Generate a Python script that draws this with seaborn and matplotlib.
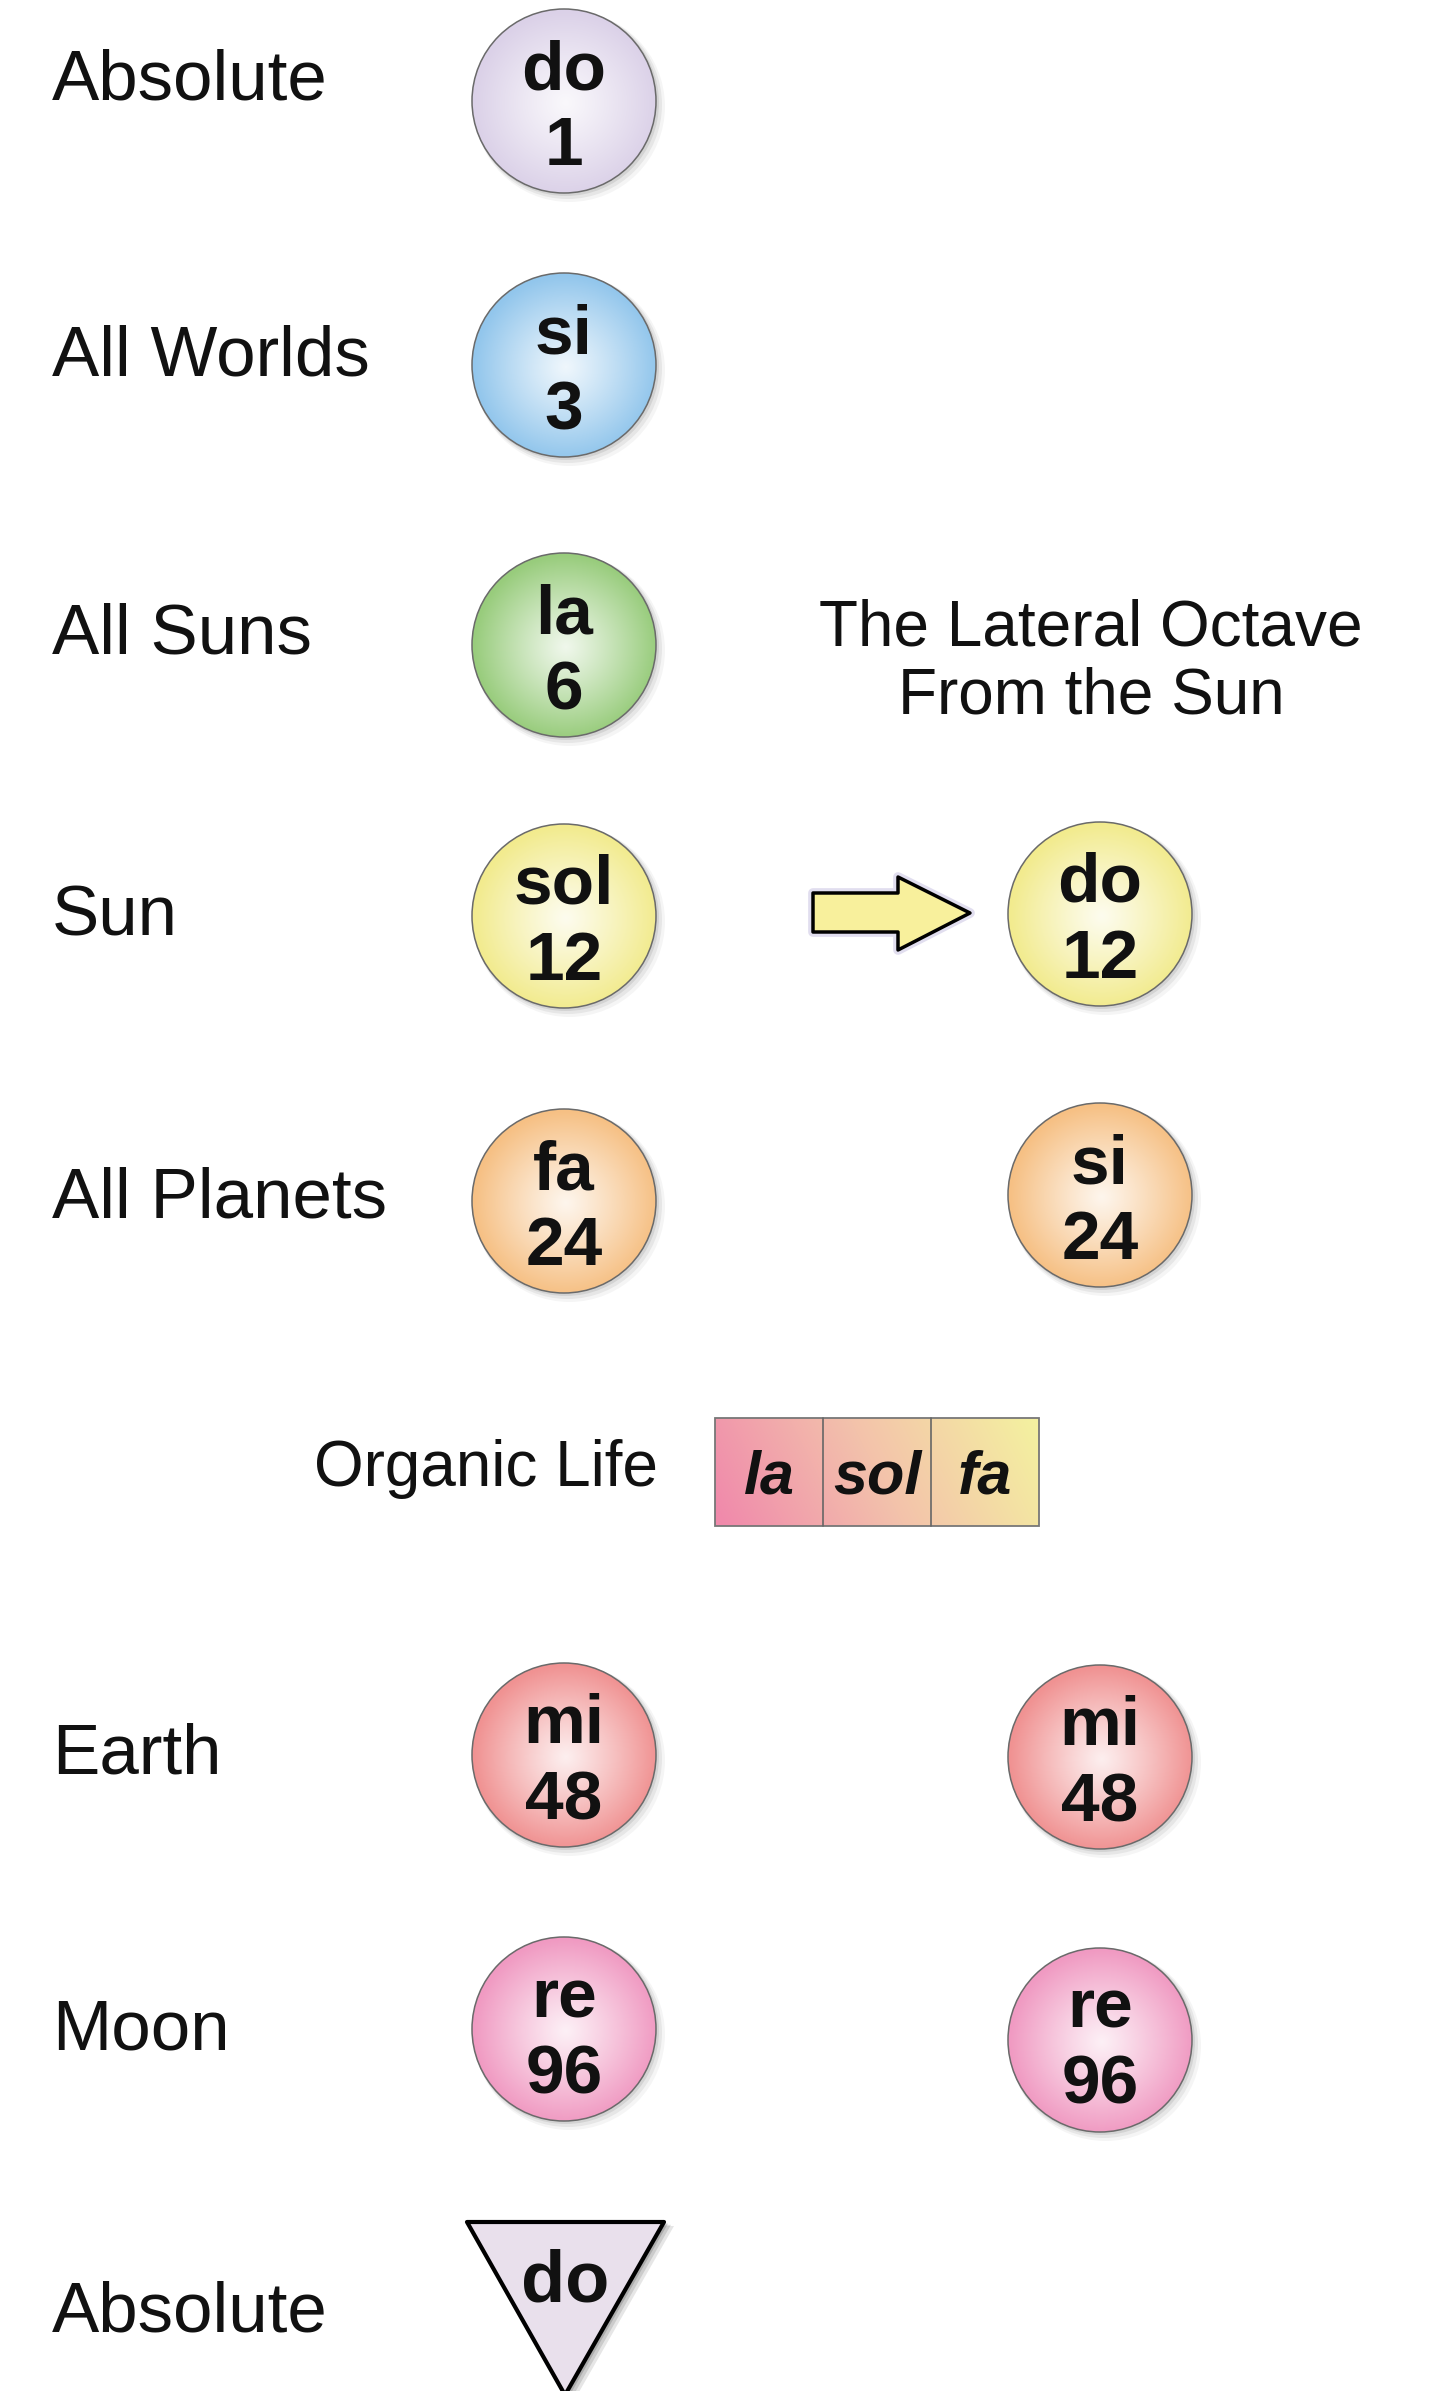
import numpy as np
import pandas as pd
import seaborn as sns
import matplotlib.pyplot as plt
from matplotlib.patches import Circle, Polygon, Rectangle
from matplotlib.colors import to_rgb

# row labels on the left
row_labels = ["Absolute", "All Worlds", "All Suns", "Sun", "All Planets",
              "Earth", "Moon", "Absolute"]
label_y = [100, 376, 654, 936, 1218, 1773, 2049, 2332]

# main octave (left column of balls)
main_notes = ["do", "si", "la", "sol", "fa", "mi", "re"]
main_numbers = ["1", "3", "6", "12", "24", "48", "96"]
main_y = [101, 365, 645, 916, 1201, 1755, 2029]
main_colors = ["#dbd1e8", "#92c6ec", "#98cc7c", "#f2eb8e", "#f6c084", "#f09292", "#f09ac2"]

# lateral octave from the sun (right column)
lat_notes = ["do", "si", "mi", "re"]
lat_numbers = ["12", "24", "48", "96"]
lat_y = [914, 1195, 1757, 2040]
lat_colors = ["#f2eb8e", "#f6c084", "#f09292", "#f09ac2"]

# organic life strip
organic_notes = ["la", "sol", "fa"]

title_lines = ["The Lateral Octave", "From the Sun"]

W, H = 1430, 2391
R = 92
MAIN_X, LAT_X = 564, 1100

sns.set_theme(style="white")
plt.rcParams['font.family'] = ['Liberation Sans', 'DejaVu Sans']

fig = plt.figure(figsize=(W / 100, H / 100), dpi=100)
ax = fig.add_axes([0, 0, 1, 1])

nodes = pd.DataFrame({
    "x": [MAIN_X] * len(main_notes) + [LAT_X] * len(lat_notes),
    "y": main_y + lat_y,
    "note": main_notes + lat_notes,
    "number": main_numbers + lat_numbers,
    "color": main_colors + lat_colors,
})


def radial_ball(cx, cy, color):
    n = 200
    g = np.linspace(-1, 1, n)
    xx, yy = np.meshgrid(g, g)
    r = np.clip(np.hypot(xx - 0.02, yy - 0.02), 0, 1)
    t = 0.15 + 0.85 * r ** 1.1
    c = np.array(to_rgb(color))
    img = (1 - t[..., None]) * np.ones(3) + t[..., None] * c
    # soft shadow
    for k, a in zip([9, 6, 3], [0.04, 0.06, 0.08]):
        ax.add_patch(Circle((cx + k * 0.6, cy + k * 0.6), R + k * 0.4,
                            color="black", alpha=a, lw=0, zorder=1))
    im = ax.imshow(img, extent=(cx - R, cx + R, cy + R, cy - R), zorder=2,
                   interpolation="bilinear")
    clip = Circle((cx, cy), R, transform=ax.transData)
    im.set_clip_path(clip)


for _, row in nodes.iterrows():
    radial_ball(row["x"], row["y"], row["color"])

# ball outlines
s = (2 * R * 0.72) ** 2
sns.scatterplot(data=nodes, x="x", y="y", ax=ax, s=s, facecolor="none",
                edgecolor="#6a6a6a", linewidth=1.1, zorder=3, legend=False)
ax.set_xlim(0, W)
ax.set_ylim(H, 0)
ax.axis("off")

for _, row in nodes.iterrows():
    ax.text(row["x"], row["y"] - 12, row["note"], ha="center", va="baseline",
            fontsize=50, fontweight="bold", color="#111111", zorder=4)
    ax.text(row["x"], row["y"] + 64, row["number"], ha="center", va="baseline",
            fontsize=50, fontweight="bold", color="#111111", zorder=4)

for lab, y in zip(row_labels, label_y):
    ax.text(52, y, lab, ha="left", va="baseline", fontsize=51, color="#111111")

# title of the lateral octave
ax.text(1091, 645, title_lines[0], ha="center", va="baseline", fontsize=46, color="#111111")
ax.text(1091, 713, title_lines[1], ha="center", va="baseline", fontsize=46, color="#111111")

# arrow from Sun to lateral do
arrow = [(813, 893), (898, 893), (898, 877), (970, 913), (898, 950), (898, 932), (813, 932)]
ax.add_patch(Polygon(arrow, closed=True, fc="none", ec="#8a7cc0", lw=7, alpha=0.25,
                     joinstyle="round", zorder=1))
ax.add_patch(Polygon(arrow, closed=True, fc="#f8f09c", ec="black", lw=2.5,
                     joinstyle="round", zorder=2))

# organic life strip
bx0, bx1, by0, by1 = 715, 1039, 1418, 1526
gx = np.linspace(0, 1, 300)
gy = np.linspace(0, 1, 100)
gxx, gyy = np.meshgrid(gx, gy)
t = np.clip(gxx * 0.9 - (gyy - 0.5) * 0.15 + 0.05, 0, 1)[..., None]
pink, peach, yellow = np.array(to_rgb("#f08aab")), np.array(to_rgb("#f3c2ab")), np.array(to_rgb("#f4f0a0"))
strip = np.where(t < 0.5, pink + (peach - pink) * (t / 0.5), peach + (yellow - peach) * ((t - 0.5) / 0.5))
ax.imshow(strip, extent=(bx0, bx1, by1, by0), zorder=2, interpolation="bilinear")
ax.add_patch(Rectangle((bx0, by0), bx1 - bx0, by1 - by0, fc="none", ec="#777777", lw=1.3, zorder=3))
cell_w = (bx1 - bx0) / len(organic_notes)
for i, note in enumerate(organic_notes):
    if i > 0:
        ax.plot([bx0 + i * cell_w] * 2, [by0, by1], color="#666666", lw=1.2, zorder=3)
    ax.text(bx0 + (i + 0.5) * cell_w, 1493, note, ha="center", va="baseline",
            fontsize=44, fontweight="bold", fontstyle="italic", color="#111111", zorder=4)
ax.text(658, 1486, "Organic Life", ha="right", va="baseline", fontsize=46, color="#111111")

# bottom absolute triangle
tri = [(467, 2222), (664, 2222), (565, 2395)]
for k, a in zip([10, 7, 4], [0.12, 0.15, 0.2]):
    ax.add_patch(Polygon([(x + k, y + k * 0.4) for x, y in tri], closed=True,
                         fc="#333333", ec="none", alpha=a, zorder=1))
ax.add_patch(Polygon(tri, closed=True, fc="#e9e0ec", ec="black", lw=3,
                     joinstyle="round", zorder=2))
ax.text(565, 2302, "do", ha="center", va="baseline", fontsize=52, fontweight="bold",
        color="#111111", zorder=4)

fig.savefig("out.png", dpi=100)
